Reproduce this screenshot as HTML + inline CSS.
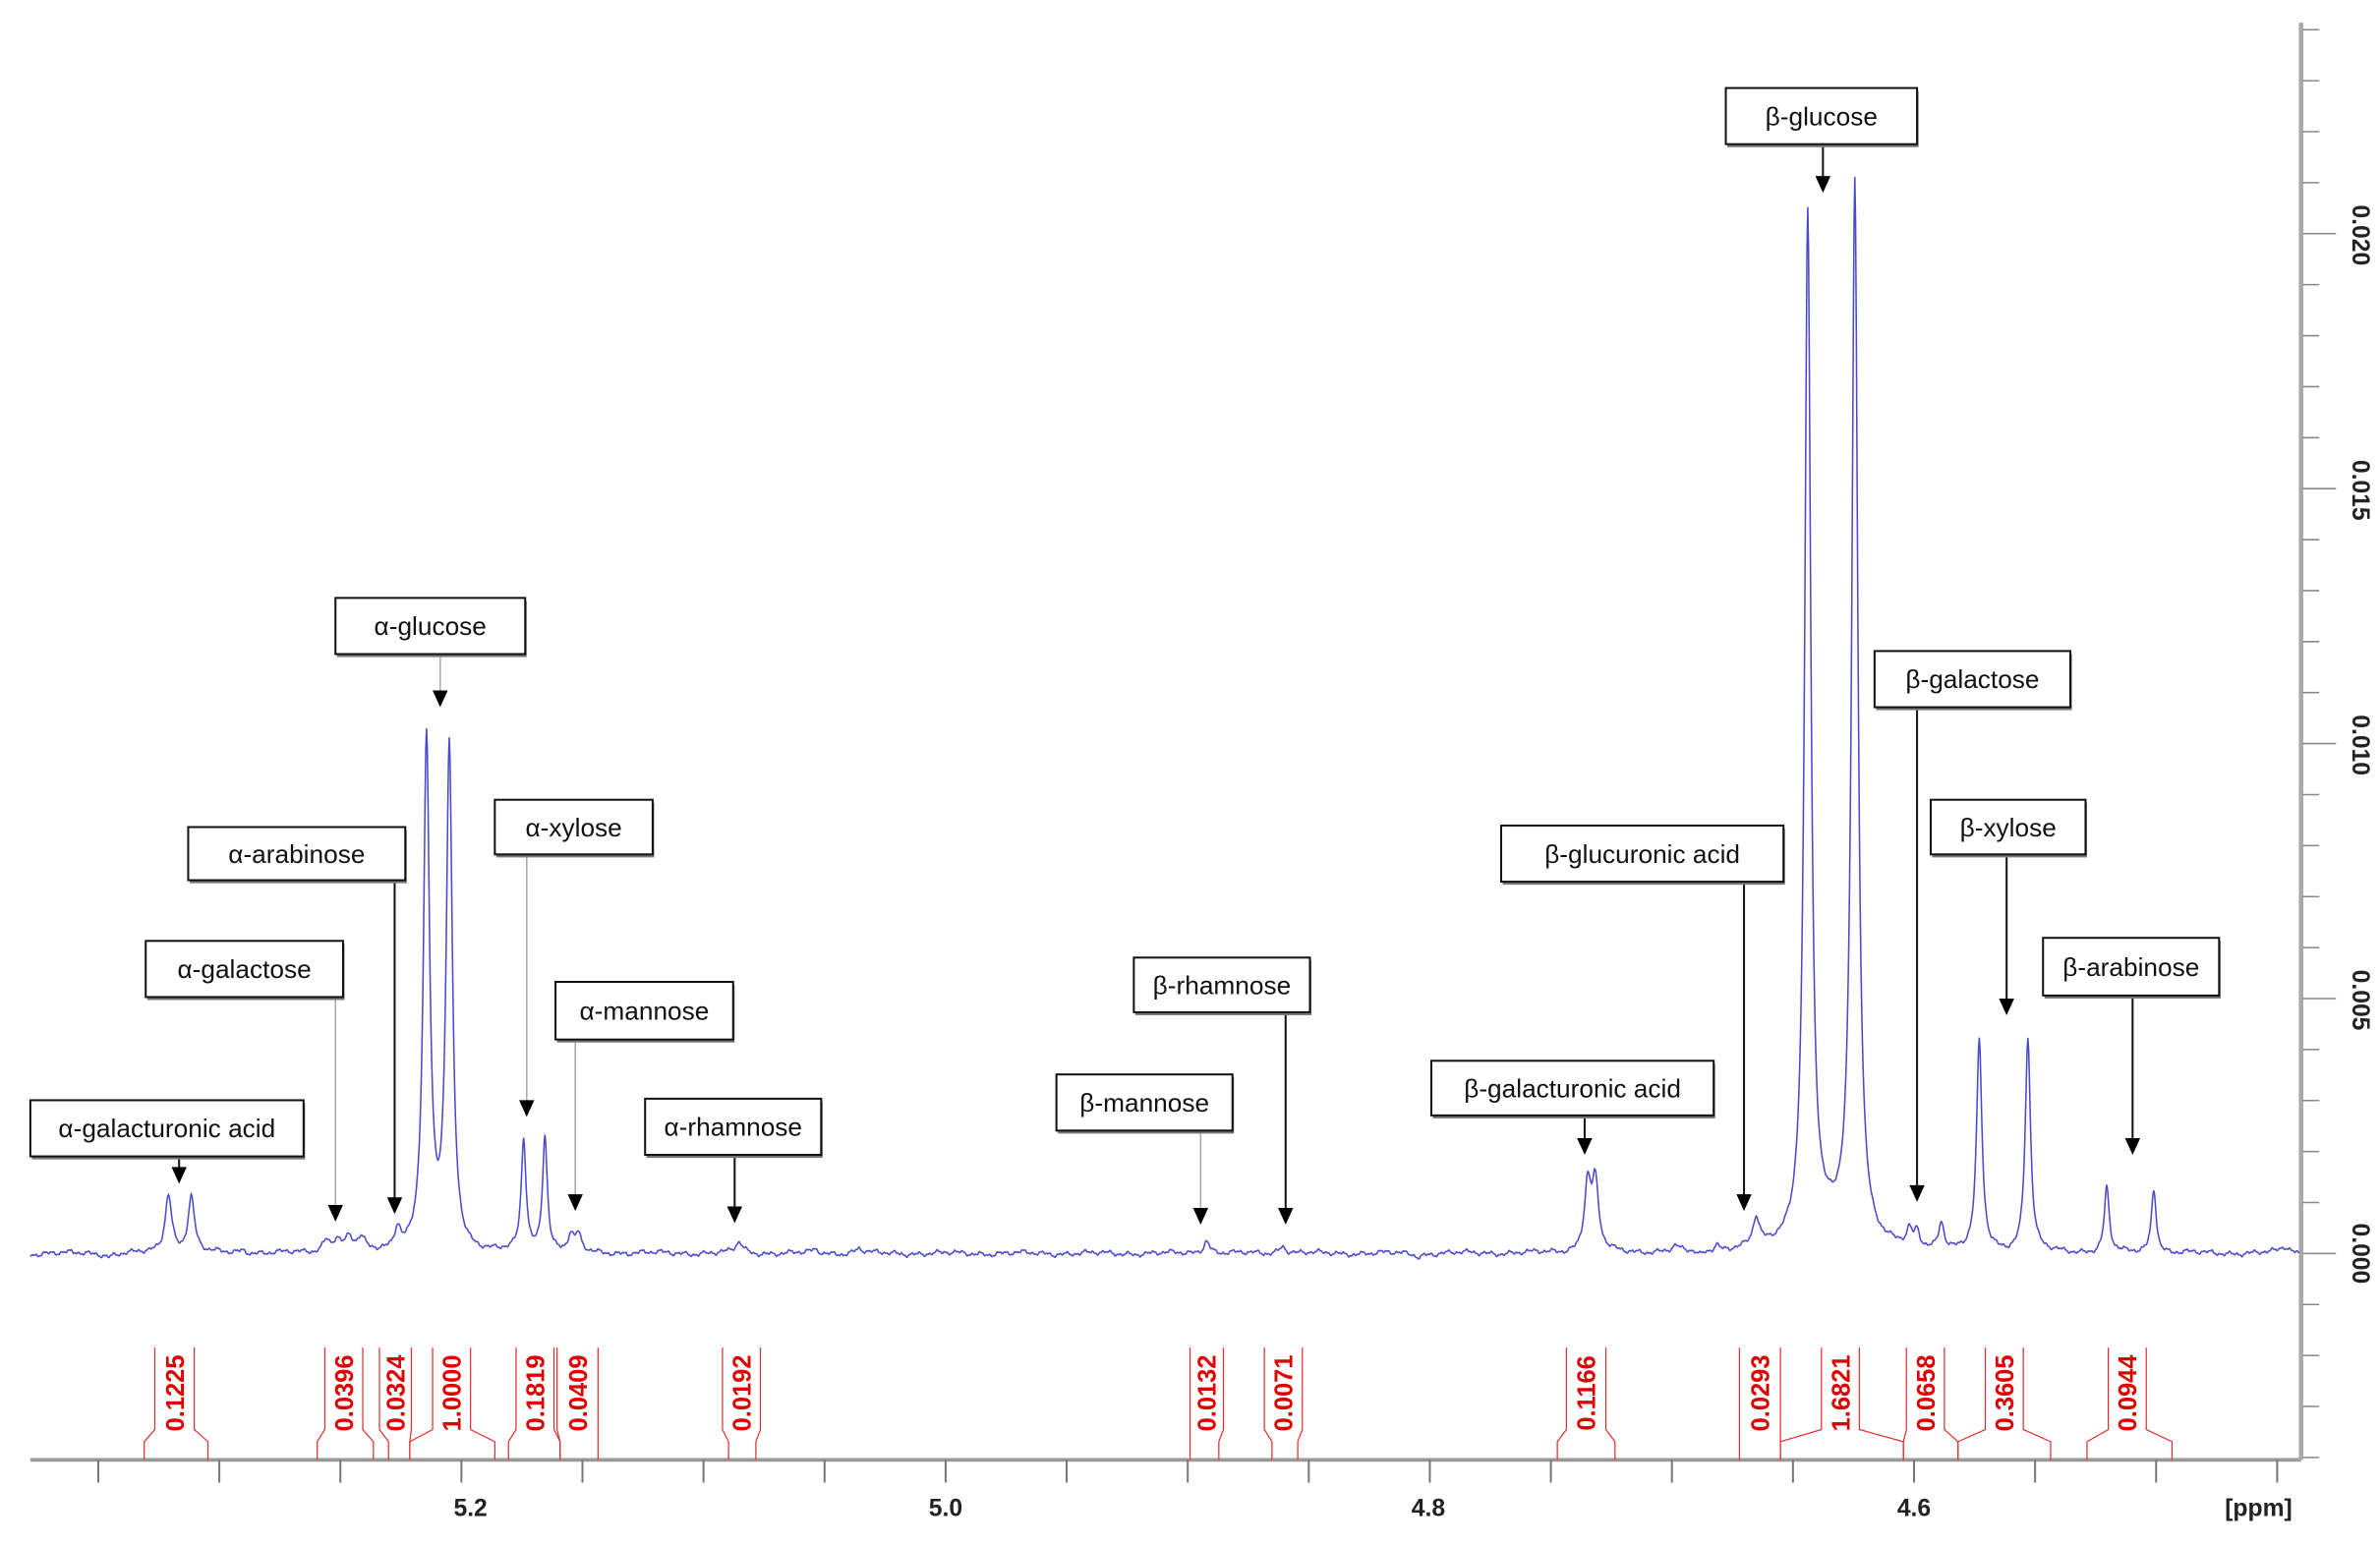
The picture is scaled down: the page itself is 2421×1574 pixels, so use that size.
<!DOCTYPE html>
<html><head><meta charset="utf-8"><style>
html,body{margin:0;padding:0;background:#fff;}
svg{display:block;}
.lb{font-family:"Liberation Sans","DejaVu Sans",sans-serif;font-size:17px;fill:#111;text-anchor:middle;}
.tk{font-family:"Liberation Sans",sans-serif;font-size:16px;font-weight:bold;fill:#222;text-anchor:middle;}
.ig{font-family:"Liberation Sans",sans-serif;font-size:16.5px;font-weight:bold;fill:#d00;text-anchor:middle;}
</style></head><body>
<svg id="s" width="2421" height="1574" viewBox="0 0 1568 1019.4" preserveAspectRatio="none" xmlns="http://www.w3.org/2000/svg">
<rect width="1568" height="1020" fill="#fff"/>
<line x1="20" y1="962" x2="1516" y2="962" stroke="#999" stroke-width="2.5"/>
<line x1="1516" y1="15" x2="1516" y2="962" stroke="#aaa" stroke-width="3"/>
<g id="xt" stroke="#777" stroke-width="1.3"></g>
<g id="yt" stroke="#888" stroke-width="1"></g>
<text class="tk" x="310" y="999">5.2</text>
<text class="tk" x="623" y="999">5.0</text>
<text class="tk" x="941" y="999">4.8</text>
<text class="tk" x="1261" y="999">4.6</text>
<text class="tk" x="1488" y="999">[ppm]</text>
<g class="tk">
<text transform="translate(1550,826) rotate(90)">0.000</text>
<text transform="translate(1550,659) rotate(90)">0.005</text>
<text transform="translate(1550,491) rotate(90)">0.010</text>
<text transform="translate(1550,323) rotate(90)">0.015</text>
<text transform="translate(1550,155) rotate(90)">0.020</text>
</g>
<path id="sp" fill="none" stroke="#4a4ad0" stroke-width="1" d=""/>
<g id="ann"></g>
<g id="int" fill="none" stroke="#e03030" stroke-width="0.8"></g>
<g id="intt"></g>
</svg>
<script>
var NS="http://www.w3.org/2000/svg";
function el(t,a,p,txt){var e=document.createElementNS(NS,t);for(var k in a)e.setAttribute(k,a[k]);if(txt)e.textContent=txt;p.appendChild(e);return e;}
var xt=document.getElementById('xt');
for(var p=5.35;p>4.44;p-=0.05){var x=623+(5.0-p)*1595;el('line',{x1:x,y1:962,x2:x,y2:977},xt);}
var yt=document.getElementById('yt');
for(var i=-4;i<=24;i++){var y=826-i*33.6;if(y<18)continue;var L=(i%5==0)?22:11;el('line',{x1:1517,y1:y,x2:1517+L,y2:y},yt);}
var pk=[[111,39,2.6],[126,37,2.6],[215,8,3],[222,8,3],[230,9,3],[238,8,3],[262,14,2.5],
[281,336,2.4],[296,330,2.4],[345,74,1.9],[359,77,1.9],[376,11,2.2],[381,11,2.2],
[487,7,3],[795,9,2.5],[845,5,3],[1046,44,2.6],[1051,44,2.6],[1131,4,2],[1157,18,2.5],
[1191,676,2.4],[1222,696,2.4],[1206,14,22],[1258,10,2],[1263,10,2],[1279,18,2.2],
[1304,138,2.1],[1336,141,2.1],[1388,43,1.9],[1419,43,1.9],[1505,4,4],[566,3,3],[537,2,3],[1104,3,3],[1120,-3,3],[935,-2,3],[72,-2,3],[160,2,3]];
var d="";
for(var x=20;x<=1515;x+=0.5){var v=0;for(var j=0;j<pk.length;j++){var q=(x-pk[j][0])/pk[j][2];v+=pk[j][1]/(1+q*q);}
v+=0.9*Math.sin(x*0.45)+0.7*Math.sin(x*1.1+1)+0.8*Math.sin(x*0.13+2)+0.4*Math.sin(x*2.7);
d+=(x==20?"M":"L")+x.toFixed(1)+" "+(826-v).toFixed(1);}
document.getElementById('sp').setAttribute('d',d);
var an=[["α-galacturonic acid",20,725,200,762,118,780,0],
["α-galactose",96,620,226,657,221,805,1],
["α-arabinose",124,545,267,580,260,800,0],
["α-glucose",221,394,346,431,290,466,1],
["α-xylose",326,527,430,563,347,736,1],
["α-mannose",366,647,483,685,379,798,1],
["α-rhamnose",425,724,541,761,484,806,0],
["β-mannose",696,708,812,745,791,807,1],
["β-rhamnose",747,631,863,667,847,807,0],
["β-galacturonic acid",943,699,1129,735,1044,761,0],
["β-glucuronic acid",989,544,1175,581,1149,798,0],
["β-glucose",1137,58,1263,95,1201,127,0],
["β-galactose",1235,429,1364,466,1263,792,0],
["β-xylose",1272,527,1374,563,1322,669,0],
["β-arabinose",1346,618,1462,656,1405,761,0]];
var A=document.getElementById('ann');
an.forEach(function(a){
 el('rect',{x:a[1]+1,y:a[2]+2,width:a[3]-a[1],height:a[4]-a[2],fill:'#777'},A);
 el('rect',{x:a[1],y:a[2],width:a[3]-a[1],height:a[4]-a[2],fill:'#fff',stroke:'#111','stroke-width':1.3},A);
 el('text',{x:(a[1]+a[3])/2,y:(a[2]+a[4])/2+6,'class':'lb'},A,a[0]);
 el('line',{x1:a[5],y1:a[4]+2,x2:a[5],y2:a[6]-10,stroke:a[7]?'#aaa':'#111','stroke-width':a[7]?1:1.3},A);
 el('path',{d:'M'+(a[5]-5)+' '+(a[6]-11)+'L'+(a[5]+5)+' '+(a[6]-11)+'L'+a[5]+' '+a[6]+'Z',fill:'#000'},A);
});
var ig=[["0.1225",102,128,95,137],["0.0396",214,239,209,246],["0.0324",250,271,256,270],
["1.0000",285,310,270,326],["0.1819",340,365,335,369],["0.0409",367,394,369,394],
["0.0192",476,501,480,498],["0.0132",784,806,784,803],["0.0071",833,858,838,855],
["0.1166",1032,1058,1026,1064],["0.0293",1146,1173,1146,1173],["1.6821",1200,1225,1173,1254],
["0.0658",1256,1281,1254,1290],["0.3605",1308,1333,1290,1351],["0.0944",1389,1414,1375,1431]];
var I=document.getElementById('int'),IT=document.getElementById('intt');
ig.forEach(function(g){
 el('path',{d:'M'+g[1]+' 888L'+g[1]+' 942L'+g[3]+' 950L'+g[3]+' 962'},I);
 el('path',{d:'M'+g[2]+' 888L'+g[2]+' 942L'+g[4]+' 950L'+g[4]+' 962'},I);
 var cx=(g[1]+g[2])/2;
 el('text',{'class':'ig',transform:'translate('+(cx+6)+',918) rotate(-90)'},IT,g[0]);
});
</script>
</body></html>
